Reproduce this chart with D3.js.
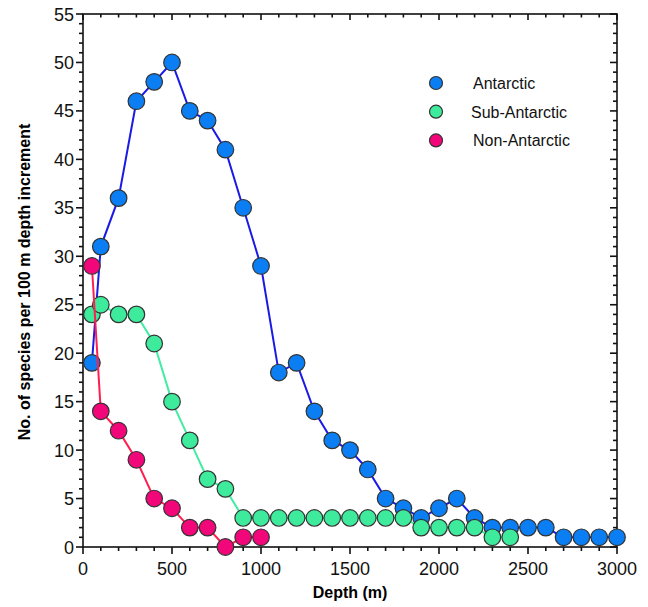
<!DOCTYPE html>
<html>
<head>
<meta charset="utf-8">
<script src="https://cdn.jsdelivr.net/npm/d3@7"></script>
<style>
  body { margin: 0; background: #fff; }
  svg { display: block; font-family: "Liberation Sans", Arial, sans-serif; }
</style>
</head>
<body>
<svg id="chart" width="648" height="607"></svg>
<script>
// depth (m) and species counts
const antarcticDepth = [50, 100, 200, 300, 400, 500, 600, 700, 800, 900, 1000, 1100, 1200, 1300, 1400, 1500,
    1600, 1700, 1800, 1900, 2000, 2100, 2200, 2300, 2400, 2500, 2600, 2700, 2800, 2900, 3000];
const antarcticCount = [19, 31, 36, 46, 48, 50, 45, 44, 41, 35, 29, 18, 19, 14, 11, 10,
    8, 5, 4, 3, 4, 5, 3, 2, 2, 2, 2, 1, 1, 1, 1];

const subDepth = [50, 100, 200, 300, 400, 500, 600, 700, 800, 900, 1000, 1100, 1200, 1300, 1400, 1500,
    1600, 1700, 1800, 1900, 2000, 2100, 2200, 2300, 2400];
const subCount = [24, 25, 24, 24, 21, 15, 11, 7, 6, 3, 3, 3, 3, 3, 3, 3,
    3, 3, 3, 2, 2, 2, 2, 1, 1];

const nonDepth = [50, 100, 200, 300, 400, 500, 600, 700, 800, 900, 1000];
const nonCount = [29, 14, 12, 9, 5, 4, 2, 2, 0, 1, 1];

const xTicks = [0, 500, 1000, 1500, 2000, 2500, 3000];
const yTicks = [0, 5, 10, 15, 20, 25, 30, 35, 40, 45, 50, 55];

const seriesNames = ["Antarctic", "Sub-Antarctic", "Non-Antarctic"];

const series = [
    { name: seriesNames[0], xs: antarcticDepth, ys: antarcticCount, line: "#1a1ae6", fill: "#0a7ef2" },
    { name: seriesNames[1], xs: subDepth, ys: subCount, line: "#42eca2", fill: "#3eea9c" },
    { name: seriesNames[2], xs: nonDepth, ys: nonCount, line: "#ff1f4f", fill: "#f2077a" }
];

const svg = d3.select("#chart");
const plotL = 83, plotR = 617, plotT = 14, plotB = 547;

const x = d3.scaleLinear().domain([0, 3000]).range([plotL, plotR]);
const y = d3.scaleLinear().domain([0, 55]).range([plotB, plotT]);

const minorX = d3.range(0, 3001, 100);
const minorY = d3.range(0, 56, 1);

// box with ticks on all four sides
const axisG = svg.append("g").attr("stroke", "#111").attr("stroke-width", 1.6);

axisG.append("rect")
    .attr("x", plotL).attr("y", plotT)
    .attr("width", plotR - plotL).attr("height", plotB - plotT)
    .attr("fill", "none");

// bottom: outward
axisG.selectAll(".tb").data(minorX).enter().append("line")
    .attr("x1", d => x(d)).attr("x2", d => x(d))
    .attr("y1", plotB).attr("y2", d => plotB + (d % 500 === 0 ? 7 : 4));
// top: inward
axisG.selectAll(".tt").data(minorX).enter().append("line")
    .attr("x1", d => x(d)).attr("x2", d => x(d))
    .attr("y1", plotT).attr("y2", d => plotT + (d % 500 === 0 ? 6 : 3.5));
// left: outward
axisG.selectAll(".tl").data(minorY).enter().append("line")
    .attr("y1", d => y(d)).attr("y2", d => y(d))
    .attr("x1", plotL).attr("x2", d => plotL - (d % 5 === 0 ? 7 : 4));
// right: inward
axisG.selectAll(".tr").data(minorY).enter().append("line")
    .attr("y1", d => y(d)).attr("y2", d => y(d))
    .attr("x1", plotR).attr("x2", d => plotR - (d % 5 === 0 ? 7 : 4));

svg.selectAll(".xl").data(xTicks).enter().append("text")
    .attr("x", d => x(d)).attr("y", 575)
    .attr("text-anchor", "middle")
    .attr("font-size", 18).attr("fill", "#111")
    .text(d => d);

svg.selectAll(".yl").data(yTicks).enter().append("text")
    .attr("x", 74).attr("y", d => y(d) + 6.5)
    .attr("text-anchor", "end")
    .attr("font-size", 18).attr("fill", "#111")
    .text(d => d);

svg.append("text")
    .attr("x", 350).attr("y", 598)
    .attr("text-anchor", "middle")
    .attr("font-size", 16).attr("font-weight", "bold")
    .text("Depth (m)");

svg.append("text")
    .attr("transform", "translate(30,282) rotate(-90)")
    .attr("text-anchor", "middle")
    .attr("font-size", 16).attr("font-weight", "bold")
    .text("No. of species per 100 m depth increment");

const line = d3.line().x(d => x(d[0])).y(d => y(d[1]));

series.forEach(s => {
    const pts = d3.zip(s.xs, s.ys);
    const g = svg.append("g");
    g.append("path")
        .attr("d", line(pts))
        .attr("fill", "none")
        .attr("stroke", s.line)
        .attr("stroke-width", 2);
    g.selectAll("circle").data(pts).enter().append("circle")
        .attr("cx", d => x(d[0])).attr("cy", d => y(d[1]))
        .attr("r", 8.3)
        .attr("fill", s.fill)
        .attr("stroke", "#333")
        .attr("stroke-width", 1.2);
});

// legend
const legend = svg.append("g");
series.forEach((s, i) => {
    const ly = 83 + i * 28.7;
    legend.append("circle")
        .attr("cx", 436).attr("cy", ly).attr("r", 6.5)
        .attr("fill", s.fill).attr("stroke", "#333").attr("stroke-width", 1.2);
    legend.append("text")
        .attr("x", i === 1 ? 471 : 473).attr("y", ly + 6)
        .attr("font-size", 16).attr("fill", "#111")
        .text(s.name);
});
</script>
</body>
</html>
